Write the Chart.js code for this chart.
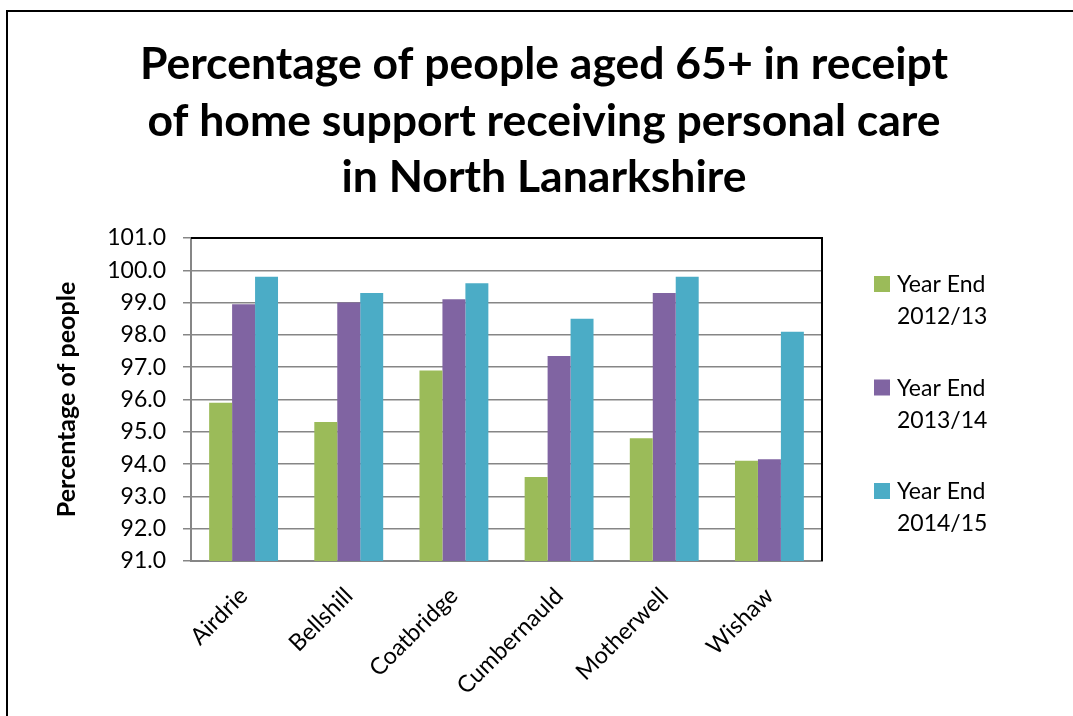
<!DOCTYPE html>
<html>
<head>
<meta charset="utf-8">
<script src="https://cdn.jsdelivr.net/npm/chart.js@4.4.1/dist/chart.umd.min.js"></script>
<style>
  html, body { margin: 0; padding: 0; background: #fff; }
  #wrap { width: 1073px; height: 716px; position: relative; }
</style>
</head>
<body>
<div id="wrap"><canvas id="c" width="1073" height="716"></canvas></div>
<script>
const categories = ["Airdrie", "Bellshill", "Coatbridge", "Cumbernauld", "Motherwell", "Wishaw"];
const seriesLabels = ["Year End 2012/13", "Year End 2013/14", "Year End 2014/15"];
const values2012 = [95.9, 95.3, 96.9, 93.6, 94.8, 94.1];
const values2013 = [98.95, 99.0, 99.1, 97.35, 99.3, 94.15];
const values2014 = [99.8, 99.3, 99.6, 98.5, 99.8, 98.1];
const seriesColors = ["#9BBB59", "#8064A2", "#4BACC6"];
const titleLines = ["Percentage of people aged 65+ in receipt", "of home support receiving personal care", "in North Lanarkshire"];
const yTitle = "Percentage of people";
const yMin = 91, yMax = 101, yStep = 1;

const FONT = "Lato, 'Open Sans', sans-serif";

const framePlugin = {
  id: 'frame',
  beforeDraw(chart) {
    const ctx = chart.ctx;
    ctx.save();
    ctx.fillStyle = '#fff';
    ctx.fillRect(0, 0, chart.width, chart.height);
    ctx.strokeStyle = '#000';
    ctx.lineWidth = 2;
    ctx.beginPath();
    ctx.moveTo(7, chart.height + 5);
    ctx.lineTo(7, 11);
    ctx.lineTo(chart.width + 5, 11);
    ctx.stroke();
    // title
    ctx.fillStyle = '#000';
    ctx.font = "bold 44.5px " + FONT;
    ctx.textAlign = 'center';
    ctx.textBaseline = 'alphabetic';
    const baselines = [79, 136, 192];
    titleLines.forEach((t, i) => ctx.fillText(t, 544, baselines[i]));
    ctx.restore();
  },
  afterDraw(chart) {
    const ctx = chart.ctx;
    const a = chart.chartArea;
    ctx.save();
    ctx.strokeStyle = '#000';
    ctx.lineWidth = 2;
    ctx.beginPath();
    ctx.moveTo(a.left, a.top);
    ctx.lineTo(a.right, a.top);
    ctx.lineTo(a.right, a.bottom);
    ctx.stroke();
    // legend
    ctx.font = "23px " + FONT;
    ctx.textAlign = 'left';
    ctx.textBaseline = 'alphabetic';
    chart.data.datasets.forEach((ds, i) => {
      const top = 276 + i * 103.5;
      ctx.fillStyle = ds.backgroundColor;
      ctx.fillRect(874, top, 16, 16);
      ctx.fillStyle = '#000';
      const parts = ds.label.split(' ');
      const l2 = parts.pop();
      ctx.fillText(parts.join(' '), 897, top + 16);
      ctx.fillText(l2, 897, top + 48);
    });
    ctx.restore();
  }
};

const datasets = [values2012, values2013, values2014].map((v, i) => ({
  label: seriesLabels[i],
  data: v,
  backgroundColor: seriesColors[i],
  borderWidth: 0,
  categoryPercentage: 0.655,
  barPercentage: 1.0
}));

new Chart(document.getElementById('c'), {
  type: 'bar',
  data: { labels: categories, datasets },
  plugins: [framePlugin],
  options: {
    responsive: false,
    animation: false,
    layout: { padding: { top: 238, right: 251, left: 0, bottom: 0 } },
    plugins: { legend: { display: false }, title: { display: false }, tooltip: { enabled: false } },
    scales: {
      x: {
        grid: { display: false },
        border: { display: true, color: '#868686', width: 2 },
        ticks: {
          color: '#000',
          font: { family: FONT, size: 23.5 },
          maxRotation: 45, minRotation: 45,
          padding: 13
        },
        afterFit(s) { s.height = 155; }
      },
      y: {
        min: yMin, max: yMax,
        ticks: {
          stepSize: yStep,
          color: '#000',
          font: { family: FONT, size: 23 },
          padding: 17,
          callback: (v) => Number(v).toFixed(1)
        },
        grid: { color: '#868686', lineWidth: 1.5, tickLength: 8, drawTicks: true },
        border: { display: true, color: '#868686', width: 2 },
        title: {
          display: true,
          text: yTitle,
          color: '#000',
          font: { family: FONT, size: 25, weight: 'bold' },
          padding: { top: 52, bottom: 0 }
        },
        afterFit(s) { s.width = 191; }
      }
    }
  }
});
</script>
</body>
</html>
